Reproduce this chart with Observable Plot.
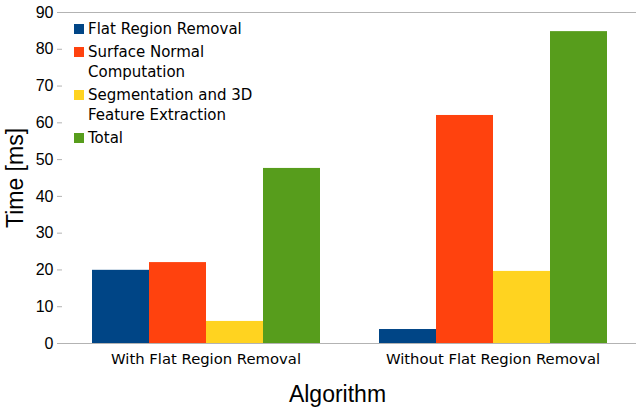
<!DOCTYPE html>
<html>
<head>
<meta charset="utf-8">
<script src="https://cdn.jsdelivr.net/npm/d3@7"></script>
<script src="https://cdn.jsdelivr.net/npm/@observablehq/plot@0.6"></script>
<style>
  html, body { margin: 0; padding: 0; background: #fff; }
  #wrap { position: relative; width: 636px; height: 410px; }
  #legend { position: absolute; left: 74px; top: 19px; font-family: "DejaVu Sans", sans-serif; font-size: 15px; color: #000; }
  .item { display: flex; align-items: flex-start; margin-bottom: 2px; line-height: 20.5px; }
  .sw { width: 10px; height: 10px; margin-top: 5px; margin-right: 4px; flex: none; }
  .lbl { max-width: 178px; }
</style>
</head>
<body>
<div id="wrap"><div id="legend"></div></div>
<script>
const groups = ["With Flat Region Removal", "Without Flat Region Removal"];
const series = ["Flat Region Removal", "Surface Normal Computation", "Segmentation and 3D Feature Extraction", "Total"];
const colors = ["#004586", "#ff420e", "#ffd320", "#579d1c"];
const withValues = [19.9, 22.0, 6.0, 47.6];
const withoutValues = [3.8, 62.0, 19.6, 84.8];
const yTicks = [0, 10, 20, 30, 40, 50, 60, 70, 80, 90];

const data = [];
series.forEach((s, i) => {
  data.push({group: groups[0], series: s, value: withValues[i]});
  data.push({group: groups[1], series: s, value: withoutValues[i]});
});

const chart = Plot.plot({
  width: 636,
  height: 410,
  marginLeft: 62,
  marginRight: 0,
  marginTop: 12,
  marginBottom: 67,
  style: {fontFamily: "'Liberation Sans', Arial, sans-serif", background: "#fff"},
  fx: {domain: groups, padding: 0, label: null},
  x: {domain: series, paddingInner: 0, paddingOuter: 0.5, axis: null},
  y: {domain: [0, 90], label: null},
  color: {domain: series, range: colors},
  marks: [
    Plot.ruleY([90], {stroke: "#b3b3b3", strokeWidth: 1.2}),
    Plot.barY(data, {fx: "group", x: "series", y: "value", fill: "series", inset: 0}),
    Plot.ruleY([0], {stroke: "#b3b3b3", strokeWidth: 1.2}),
    Plot.axisY({ticks: yTicks, tickSize: 5, tickPadding: 4, fontSize: 16, stroke: "#b3b3b3", fill: "#000",
      line: true, label: "Time [ms]", labelAnchor: "center", labelArrow: "none", labelOffset: 56}),
    Plot.axisFx({anchor: "bottom", tickSize: 0, tickPadding: 10, fontSize: 14.8, fontFamily: "DejaVu Sans", fill: "#000",
      label: "Algorithm", labelAnchor: "center", labelArrow: "none", labelOffset: 58})
  ]
});
document.getElementById("wrap").prepend(chart);

// enlarge axis titles
chart.querySelectorAll("g[aria-label='y-axis label'] text, g[aria-label='fx-axis label'] text").forEach(t => {
  t.setAttribute("font-size", "23");
  t.setAttribute("font-family", "'Liberation Sans', Arial, sans-serif");
});
chart.querySelectorAll("g[aria-label='fx-axis label'] text").forEach(t => {
  t.setAttribute("dx", "-12");
});

const legend = document.getElementById("legend");
series.forEach((s, i) => {
  const it = document.createElement("div");
  it.className = "item";
  it.innerHTML = `<span class="sw" style="background:${colors[i]}"></span><span class="lbl">${s}</span>`;
  legend.appendChild(it);
});
</script>
</body>
</html>
